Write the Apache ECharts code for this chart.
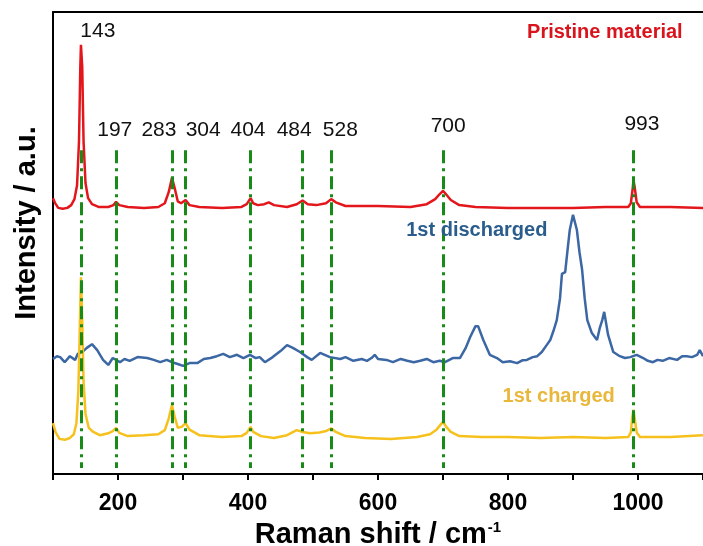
<!DOCTYPE html>
<html lang="en">
<head>
    <meta charset="UTF-8">
    <title>Raman spectra</title>
    <script src="https://cdn.jsdelivr.net/npm/echarts@6.0.0/dist/echarts.min.js"></script>
    <style>
        * { margin: 0; padding: 0; }
        body { background: #fff; }
        #chart-container { width: 703px; height: 546px; }
    </style>
</head>
<body>
<div id="chart-container"></div>
<script>
    // Raman shift (cm-1) and intensity (a.u., 0-100 frame)
    let pristine = [
        [100, 59.7], [103, 58.7], [108, 57.6], [115, 57.4], [122, 57.6], [128, 58.2], [133, 59.5],
        [137, 62.5], [140, 72], [142, 88], [143, 92.9], [145, 88], [147, 72], [150, 63], [154, 59.7],
        [160, 58.4], [170, 57.8], [185, 57.8], [193, 58.2], [197, 58.9], [202, 58.2], [215, 57.8],
        [240, 57.6], [262, 57.8], [272, 58.6], [278, 61], [283, 64.1], [287, 62], [292, 59],
        [297, 58.6], [304, 59.3], [310, 58.2], [325, 57.8], [360, 57.6], [390, 57.8], [398, 58.4],
        [404, 59.7], [408, 58.6], [415, 58.2], [425, 58.4], [432, 58.8], [440, 58.2], [460, 57.8],
        [475, 58.4], [484, 59.2], [492, 58.4], [505, 58.2], [520, 58.6], [528, 59.5], [535, 58.8],
        [550, 58.0], [600, 58.0], [650, 57.8], [675, 58.4], [688, 59.5], [695, 60.6], [700, 61.3],
        [705, 60.5], [712, 59.3], [725, 58.2], [750, 57.8], [800, 57.6], [850, 57.6], [900, 57.6],
        [950, 57.8], [985, 57.8], [989, 58.6], [992, 62], [993, 63.6], [995, 62], [998, 58.8],
        [1003, 57.8], [1050, 57.8], [1100, 57.6]
    ];

    let discharged = [
        [100, 24.9], [106, 25.5], [111, 25.3], [118, 24.2], [126, 25.5], [134, 24.7], [138, 26.0],
        [145, 26.4], [152, 27.3], [160, 28.1], [168, 26.8], [177, 24.7], [185, 23.6], [192, 25.1],
        [203, 24.2], [210, 24.9], [218, 24.5], [230, 25.3], [245, 25.1], [255, 24.7], [265, 24.2],
        [275, 24.7], [283, 24.2], [292, 23.8], [300, 23.4], [310, 24.0], [322, 24.0], [332, 24.9],
        [342, 25.1], [352, 25.5], [362, 26.0], [372, 25.3], [383, 25.8], [393, 25.1], [403, 25.8],
        [412, 25.1], [418, 25.3], [426, 24.2], [438, 25.3], [450, 26.6], [460, 27.9], [469, 27.3],
        [480, 26.4], [491, 25.3], [498, 24.7], [511, 26.2], [526, 25.3], [542, 24.9], [550, 25.3],
        [562, 24.5], [575, 24.9], [583, 24.5], [590, 25.1], [595, 25.8], [600, 24.9], [603, 24.5],
        [613, 24.7], [623, 24.2], [635, 24.9], [645, 24.5], [655, 24.2], [665, 24.5], [675, 24.9],
        [685, 24.2], [695, 24.5], [703, 24.2], [715, 25.1], [726, 25.1], [735, 27.3], [742, 29.7],
        [750, 32.0], [754, 32.0], [762, 29.0], [772, 25.8], [783, 25.1], [792, 24.2], [803, 24.4],
        [814, 24.0], [822, 24.6], [829, 24.7], [838, 25.3], [845, 25.5], [852, 26.4], [860, 28.0],
        [865, 29.0], [870, 31.0], [875, 33.3], [880, 38], [883, 43.3], [888, 43.7], [892, 49],
        [895, 52.8], [900, 56.1], [906, 52.8], [910, 48], [914, 44.2], [918, 38], [922, 33.3],
        [929, 30.5], [937, 29.0], [941, 31.5], [945, 33.3], [948, 35.1], [954, 30.1], [962, 26.4],
        [972, 25.5], [980, 25.1], [988, 25.3], [998, 25.8], [1008, 25.1], [1015, 24.5], [1023, 24.2],
        [1030, 24.7], [1038, 24.5], [1048, 25.1], [1060, 24.7], [1068, 25.5], [1075, 25.5],
        [1083, 25.3], [1091, 25.8], [1095, 26.8], [1100, 25.5]
    ];

    let charged = [
        [100, 11.0], [104, 9.0], [110, 7.6], [118, 7.4], [126, 7.8], [132, 8.6], [136, 11],
        [139, 18], [141, 30], [143, 42.6], [145, 33], [147, 20], [150, 13], [155, 10], [162, 9.1],
        [172, 8.4], [185, 8.8], [192, 9.3], [197, 10.0], [202, 8.9], [215, 8.2], [240, 8.4],
        [262, 8.6], [272, 9.5], [278, 12], [283, 14.9], [287, 12.5], [292, 10], [298, 10.2],
        [304, 11.0], [310, 9.6], [325, 8.4], [360, 8.0], [390, 8.2], [398, 8.9], [404, 10.2],
        [408, 9.1], [420, 8.2], [440, 7.8], [460, 8.4], [475, 9.5], [484, 9.1], [495, 8.8],
        [510, 9.0], [520, 9.3], [528, 9.9], [535, 9.1], [550, 8.2], [580, 7.8], [620, 7.6],
        [660, 8.0], [680, 8.6], [690, 9.6], [697, 10.8], [700, 11.3], [705, 10.2], [712, 9.1],
        [725, 8.2], [760, 8.0], [800, 8.0], [850, 7.8], [900, 8.0], [950, 7.8], [985, 8.0],
        [989, 9.0], [991, 12], [993, 13.9], [995, 12], [998, 9.0], [1003, 8.0], [1050, 8.0],
        [1100, 8.4]
    ];

    // reference peak positions (dash-dot guides)
    let peakPositions = [143, 197, 283, 304, 404, 484, 528, 700, 993];
    let guideTop = 70.1;
    let guideBottom = 1.3;

    // peak numbers: [x, y, text]
    let peakLabels = [
        [169, 95.9, '143'], [195, 74.5, '197'], [263, 74.5, '283'], [331, 74.5, '304'],
        [400, 74.5, '404'], [471, 74.5, '484'], [542, 74.5, '528'], [708, 75.3, '700'],
        [1006, 75.8, '993']
    ];

    // series captions: [x, y, text, colour]
    let captions = [
        [949, 95.5, 'Pristine material', '#d9141c'],
        [752, 52.8, '1st discharged', '#2b5d8c'],
        [878, 16.7, '1st charged', '#e9b73c']
    ];

    let chartDom = document.getElementById('chart-container');
    let myChart = echarts.init(chartDom);

    function spectrum(name, data, color) {
        return {
            name: name,
            type: 'line',
            data: data,
            symbol: 'none',
            smooth: false,
            z: 2,
            lineStyle: {color: color, width: 2.5}
        };
    }

    let guideLines = peakPositions.map(function (p) {
        return [{coord: [p, guideTop]}, {coord: [p, guideBottom]}];
    });

    let option = {
        animation: false,
        grid: {left: 53, right: 0, top: 12, bottom: 72, outerBoundsMode: 'none'},
        xAxis: [{
            type: 'value',
            min: 100,
            max: 1100,
            interval: 100,
            name: 'Raman shift / cm{sup|-1}',
            nameLocation: 'middle',
            nameGap: 43,
            nameTextStyle: {
                fontFamily: 'Liberation Sans', fontWeight: 'bold', fontSize: 29, color: '#000',
                rich: {
                    sup: {fontFamily: 'Liberation Sans', fontWeight: 'bold', fontSize: 15, color: '#000', padding: [0, 0, 16, 1]}
                }
            },
            axisLine: {lineStyle: {color: '#000', width: 2}},
            axisTick: {show: true, inside: false, length: 6, lineStyle: {color: '#000', width: 2}},
            axisLabel: {
                margin: 18,
                fontFamily: 'Liberation Sans',
                fontWeight: 'bold',
                fontSize: 23,
                color: '#000',
                formatter: function (v) {
                    return v % 200 === 0 ? String(v) : '';
                }
            },
            splitLine: {show: false}
        }, {
            type: 'value',
            position: 'top',
            min: 100,
            max: 1100,
            axisLine: {show: true, lineStyle: {color: '#000', width: 2}},
            axisTick: {show: false},
            axisLabel: {show: false},
            splitLine: {show: false}
        }],
        yAxis: {
            type: 'value',
            min: 0,
            max: 100,
            axisLine: {show: true, lineStyle: {color: '#000', width: 2}},
            axisTick: {show: false},
            axisLabel: {show: false},
            splitLine: {show: false}
        },
        graphic: [{
            type: 'text',
            rotation: Math.PI / 2,
            x: 27,
            y: 223,
            style: {
                text: 'Intensity / a.u.',
                fontFamily: 'Liberation Sans',
                fontWeight: 'bold',
                fontSize: 29,
                fill: '#000',
                align: 'center',
                verticalAlign: 'middle'
            }
        }],
        series: [
            spectrum('Pristine material', pristine, '#e3161c'),
            spectrum('1st discharged', discharged, '#3b67a4'),
            spectrum('1st charged', charged, '#f6c11c'),
            {
                type: 'line',
                data: [],
                z: 5,
                markLine: {
                    silent: true,
                    symbol: ['none', 'none'],
                    label: {show: false},
                    lineStyle: {color: '#178a17', width: 3, type: [13, 5, 3, 5]},
                    data: guideLines
                }
            },
            {
                type: 'scatter',
                symbolSize: 0,
                z: 6,
                itemStyle: {opacity: 1},
                data: peakLabels,
                label: {
                    show: true,
                    position: 'inside',
                    formatter: function (p) { return p.data[2]; },
                    fontFamily: 'Liberation Sans',
                    fontSize: 21,
                    color: '#111'
                }
            },
            {
                type: 'scatter',
                symbolSize: 0,
                z: 6,
                itemStyle: {opacity: 1},
                data: captions.map(function (c) {
                    return {
                        value: [c[0], c[1]],
                        label: {formatter: c[2], color: c[3]}
                    };
                }),
                label: {
                    show: true,
                    position: 'inside',
                    fontFamily: 'Liberation Sans',
                    fontWeight: 'bold',
                    fontSize: 20
                }
            }
        ]
    };

    option && myChart.setOption(option);
</script>
</body>
</html>
